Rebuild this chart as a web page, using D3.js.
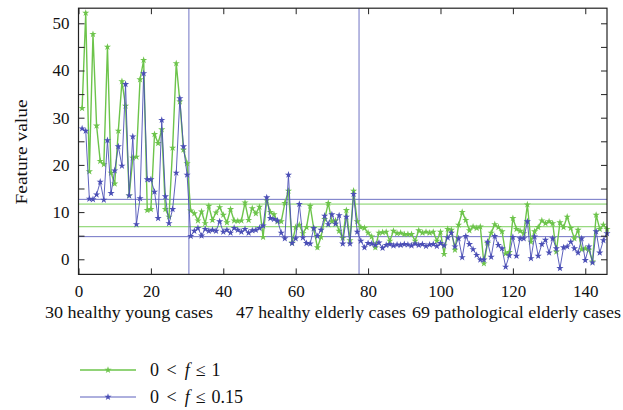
<!DOCTYPE html>
<html>
<head>
<meta charset="utf-8">
<script src="https://cdn.jsdelivr.net/npm/d3@7"></script>
<style>
body { margin: 0; background: #fff; }
text { font-family: "Liberation Serif", "DejaVu Serif", serif; fill: #111; }
</style>
</head>
<body>
<svg id="chart" width="623" height="410"></svg>
<script>
// feature values per case (cases 1..146)
const wideBand = [
  32.0, 52.2, 18.6, 47.7, 28.3, 20.8, 20.1, 45.0, 18.3, 16.0,
  27.2, 37.7, 32.5, 13.5, 21.5, 21.7, 38.1, 42.2, 10.4, 10.6,
  26.5, 24.6, 27.5, 10.6, 9.0, 23.6, 41.5, 33.4, 23.2, 20.3,
  10.3, 9.7, 8.2, 10.1, 7.6, 11.3, 8.3, 9.9, 11.0, 9.4,
  7.8, 10.6, 8.2, 8.1, 8.2, 12.0, 8.3, 10.8, 9.7, 11.1,
  4.7, 12.5, 10.0, 9.5, 8.0, 8.0, 11.9, 14.5, 3.5, 6.8,
  7.3, 5.5, 6.8, 11.3, 6.5, 2.5, 4.7, 8.5, 11.9, 8.0,
  8.2, 6.0, 4.5, 10.4, 4.0, 14.5, 8.0, 6.8, 6.6, 5.6,
  4.8, 2.5, 5.6, 5.7, 5.8, 3.9, 6.0, 5.5, 5.6, 5.3,
  5.3, 5.3, 3.9, 6.1, 5.6, 5.8, 5.6, 5.8, 3.9, 5.8,
  1.1, 6.4, 6.2, 2.0, 7.3, 10.0, 8.3, 6.1, 6.9, 6.6,
  6.9, -0.9, 3.4, 5.6, 7.4, 6.8, 5.9, 1.2, 1.5, 8.7,
  6.4, 6.0, 5.5, 11.6, 3.7, 5.9, 6.8, 8.2, 7.6, 8.0,
  7.6, 1.6, 7.8, 6.8, 9.0, 6.6, 4.4, 6.2, 2.1, 2.3,
  2.0, -0.5, 9.4, 6.4, 7.3, 6.4
];
const narrowBand = [
  27.7, 27.2, 12.8, 12.7, 13.7, 16.4, 12.6, 25.2, 14.0, 18.8,
  23.9, 19.8, 37.1, 13.5, 26.0, 7.4, 12.9, 39.4, 16.9, 16.9,
  14.3, 8.7, 29.5, 13.3, 7.6, 10.6, 18.3, 34.1, 23.9, 17.9,
  4.9, 6.0, 6.6, 5.0, 6.4, 6.0, 6.2, 6.0, 8.0, 5.8,
  6.2, 5.6, 6.6, 6.2, 5.8, 6.4, 5.6, 6.1, 6.2, 6.6,
  7.1, 13.1, 8.7, 8.5, 8.2, 5.6, 4.4, 17.9, 3.4, 4.4,
  11.7, 4.6, 3.4, 3.3, 6.6, 4.9, 6.2, 9.2, 7.4, 9.5,
  7.5, 9.3, 3.3, 9.0, 3.3, 13.8, 5.8, 3.9, 2.5, 3.4,
  3.3, 3.0, 3.5, 2.4, 3.0, 3.2, 2.9, 3.1, 3.0, 3.2,
  3.1, 2.9, 3.3, 3.0, 3.2, 2.8, 3.1, 3.2, 2.8, 3.4,
  2.9, 4.6, 5.6, 2.7, 4.4, 0.4, 4.9, 3.2, 2.1, 0.9,
  -0.1, -0.1, 3.7, 0.5, 4.9, 3.0, 2.3, -1.6, 0.8, 4.7,
  0.7, 4.4, 4.4, 8.0, 0.2, 4.8, 0.7, 3.2, 4.1, 1.4,
  4.4, 2.3, -1.9, 2.5, 2.7, 3.7, 2.3, 1.4, 4.4, -0.2,
  2.7, -0.7, 5.9, 1.4, 4.0, 5.5
];
// horizontal reference levels for each series
const wideLevels = [11.7, 6.9];
const narrowLevels = [12.7, 4.8];
// groups of cases
const groupSizes = [30, 47, 69];
const groupLabels = ["30 healthy young cases", "47 healthy elderly cases", "69 pathological elderly cases"];
const xTicks = [0, 20, 40, 60, 80, 100, 120, 140];
const yTicks = [0, 5, 10, 15, 20, 25, 30, 35, 40, 45, 50];

const green = "#6dc44b", blue = "#4b4fb6";
const greenRef = "#7dd05e", blueRef = "#7073c4";

const svg = d3.select("#chart");
const x = d3.scaleLinear().domain([0, 146]).range([78.5, 607]);
const y = d3.scaleLinear().domain([-3.2, 53.2]).range([274.4, 8.2]);

const toPts = arr => arr.map((v, i) => ({i: i + 1, v: v}));
const series = [
  {pts: toPts(wideBand), color: green, width: 1.4},
  {pts: toPts(narrowBand), color: blue, width: 0.9}
];

// reference lines
const plot = svg.append("g");
wideLevels.forEach(v => plot.append("line")
  .attr("x1", x(0)).attr("x2", x(146)).attr("y1", y(v)).attr("y2", y(v))
  .attr("stroke", greenRef).attr("stroke-width", 1));
narrowLevels.forEach(v => plot.append("line")
  .attr("x1", x(0)).attr("x2", x(146)).attr("y1", y(v)).attr("y2", y(v))
  .attr("stroke", blueRef).attr("stroke-width", 1));

let cum = 0;
groupSizes.slice(0, -1).forEach(n => {
  cum += n;
  plot.append("line")
    .attr("x1", x(cum + 0.5)).attr("x2", x(cum + 0.5))
    .attr("y1", y(53.2)).attr("y2", y(-3.2))
    .attr("stroke", blueRef).attr("stroke-width", 1);
});

// data lines + markers
const line = d3.line().x(d => x(d.i)).y(d => y(d.v));
const star = d3.symbol().type(d3.symbolStar).size(16);
series.forEach(s => {
  plot.append("path").datum(s.pts)
    .attr("d", line).attr("fill", "none")
    .attr("stroke", s.color).attr("stroke-width", s.width);
  plot.selectAll(null).data(s.pts).enter().append("path")
    .attr("d", star)
    .attr("transform", d => "translate(" + x(d.i) + "," + y(d.v) + ")")
    .attr("fill", s.color);
});

// axes
const gx = svg.append("g").attr("transform", "translate(0," + y(-3.2) + ")")
  .call(d3.axisBottom(x).tickValues(xTicks).tickSize(-6).tickPadding(11));
const gxTop = svg.append("g").attr("transform", "translate(0," + y(53.2) + ")")
  .call(d3.axisTop(x).tickValues(xTicks).tickSize(-6).tickFormat(""));
const gy = svg.append("g").attr("transform", "translate(" + x(0) + ",0)")
  .call(d3.axisLeft(y).tickValues(yTicks).tickSize(-6).tickPadding(9)
    .tickFormat(d => d % 10 === 0 ? d : ""));
const gyRight = svg.append("g").attr("transform", "translate(" + x(146) + ",0)")
  .call(d3.axisRight(y).tickValues(yTicks).tickSize(-6).tickFormat(""));

[gx, gxTop, gy, gyRight].forEach(g => {
  g.select(".domain").remove();
  g.selectAll(".tick line").attr("stroke", "#222");
  g.selectAll("text").attr("font-size", 17).attr("font-family", "Liberation Serif").attr("fill", "#111");
});

svg.append("rect")
  .attr("x", x(0)).attr("y", y(53.2))
  .attr("width", x(146) - x(0)).attr("height", y(-3.2) - y(53.2))
  .attr("fill", "none").attr("stroke", "#222").attr("stroke-width", 1.2);

// group labels under the axis
const labelX = [45, 236, 412];
const labelW = [168, 170, 209];
svg.selectAll(".grp").data(groupLabels).enter().append("text")
  .attr("class", "grp")
  .attr("x", (d, i) => labelX[i]).attr("y", 318)
  .attr("font-size", 17)
  .attr("textLength", (d, i) => labelW[i])
  .attr("lengthAdjust", "spacingAndGlyphs")
  .text(d => d);

svg.append("text")
  .attr("transform", "translate(27,152) rotate(-90)")
  .attr("text-anchor", "middle")
  .attr("font-size", 17)
  .attr("textLength", 105)
  .attr("lengthAdjust", "spacingAndGlyphs")
  .text("Feature value");

// legend
const legend = [
  {color: green, width: 1.4, label: "1"},
  {color: blue, width: 0.9, label: "0.15"}
];
const lg = svg.selectAll(".lg").data(legend).enter().append("g")
  .attr("transform", (d, i) => "translate(0," + (370 + i * 27) + ")");
lg.append("line").attr("x1", 80).attr("x2", 136)
  .attr("stroke", d => d.color).attr("stroke-width", d => d.width);
lg.append("path").attr("d", star).attr("transform", "translate(108,0)")
  .attr("fill", d => d.color);
const lt = lg.append("text").attr("x", 150).attr("y", 6).attr("font-size", 18)
  .attr("xml:space", "preserve");
lt.append("tspan").text("0 ");
lt.append("tspan").attr("dx", 3).text("<");
lt.append("tspan").attr("dx", 8).attr("font-style", "italic").text("f");
lt.append("tspan").attr("dx", 6).text("\u2264");
lt.append("tspan").attr("dx", 6).text(d => d.label);
</script>
</body>
</html>
